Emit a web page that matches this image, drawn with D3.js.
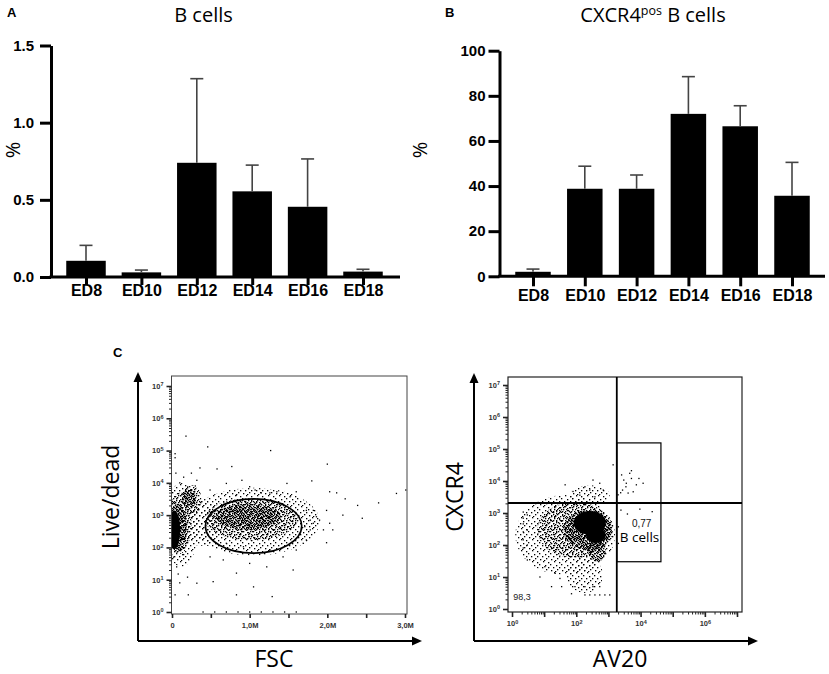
<!DOCTYPE html>
<html>
<head>
<meta charset="utf-8">
<script src="https://cdn.jsdelivr.net/npm/d3@7"></script>
<style>
  body { margin: 0; background: #fff; }
</style>
</head>
<body>
<svg width="829" height="674"></svg>
<script>
// ---- bar chart data ----
const categories = ["ED8", "ED10", "ED12", "ED14", "ED16", "ED18"];
const bCellMean = [0.105, 0.03, 0.74, 0.555, 0.455, 0.035];
const bCellUpper = [0.205, 0.045, 1.285, 0.725, 0.765, 0.05]; // top of SD whisker
const cxcr4Mean = [2, 38.8, 38.8, 72, 66.5, 35.7];
const cxcr4Upper = [3.2, 48.8, 44.9, 88.5, 75.6, 50.5];
const bCellTicks = [0, 0.5, 1.0, 1.5];
const cxcr4Ticks = [0, 20, 40, 60, 80, 100];

// ---- flow plot data ----
const decades = [1, 10, 100, 1e3, 1e4, 1e5, 1e6, 1e7];
const fscTicks = [0, 0.5, 1, 1.5, 2, 2.5, 3];
const fscLabels = { 0: "0", 1: "1,0M", 2: "2,0M", 3: "3,0M" };
const av20Labels = [1, 100, 1e4, 1e6];

// dense regions: [FSC (M), live/dead, FSC spread (M), spread (decades), density]
const liveDeadClouds = [
  [1.05, 630, 0.85, 1.05, 1],
  [0.38, 560, 0.25, 0.7, 1],
  [0.12, 500, 0.22, 1.3, 1],
  [1.02, 750, 0.6, 0.65, 2],
  [0.1, 560, 0.15, 0.95, 2],
  [0.25, 3000, 0.13, 0.45, 2],
  [0.98, 900, 0.42, 0.4, 3],
  [0.22, 3300, 0.09, 0.3, 3],
  [0.07, 400, 0.12, 0.75, 3],
  [0.03, 350, 0.075, 0.6, 4]
];
// single events: [FSC (M), live/dead]
const liveDeadPoints = [
  [0.18, 2.8e5], [0.46, 1.3e5], [1.27, 1e5], [2.0, 3.8e4], [0.04, 8e4], [0.04, 6e4],
  [0.77, 3.2e4], [0.58, 2.7e4], [0.36, 2.9e4], [0.25, 2e4], [0.9, 1.2e4], [1.48, 9.6e3],
  [1.8, 1.15e4], [1.07, 6e3], [1.15, 4.9e3], [1.35, 5.3e3], [2.03, 5.3e3], [2.12, 4.9e3],
  [2.23, 3.2e3], [2.39, 2e3], [2.66, 2.4e3], [2.89, 4.7e3], [3.01, 6e3], [2.45, 800],
  [2.2, 1e3], [1.99, 1.4e3], [2.03, 560], [1.95, 350], [1.99, 140], [1.86, 890],
  [1.82, 560], [1.9, 700], [1.78, 350], [1.73, 170], [2.07, 350], [0.66, 41],
  [0.83, 16], [1.05, 6], [0.83, 3.4], [1.29, 3], [0.53, 8.7], [0.32, 7.8],
  [0.21, 3.4], [1.56, 20], [1.22, 25], [1.43, 51], [1.6, 83], [1.0, 32],
  [0.49, 51], [0.06, 25], [0.1, 8], [0.04, 3.4], [0.92, 105], [1.26, 83],
  [0.7, 134], [1.69, 134], [0.7, 9.6e3], [1.0, 7.6e3], [1.6, 5.3e3], [0.49, 6e3],
  [0.32, 1.2e4], [1.26, 4.9e3], [1.52, 3.7e3], [0.83, 4.2e3], [1.73, 1.4e3], [1.78, 700],
  [1.71, 440], [1.82, 1.4e3], [0.02, 50], [0.08, 15], [0.15, 60], [0.2, 12],
  [0.03, 180], [0.15, 1.5e4], [0.3, 8e3], [0.05, 2e4], [0.1, 1e4], [0.4, 1],
  [0.55, 1], [0.7, 1], [0.85, 1], [1.0, 1], [1.15, 1], [1.3, 1], [1.45, 1], [1.6, 1]
];
const liveGate = { fsc: 1.05, ld: 460, fscR: 0.62, decR: 0.84 };

// dense regions: [AV20, CXCR4, AV20 spread (dec), CXCR4 spread (dec), density]
const cxcr4Clouds = [
  [45, 204, 1.55, 1.25, 1],
  [263, 3630, 0.62, 0.31, 1],
  [186, 11.5, 0.56, 0.56, 1],
  [91, 295, 1.18, 0.87, 2],
  [229, 295, 0.75, 0.62, 3],
  [437, 69, 0.28, 0.37, 3],
  [263, 490, 0.5, 0.37, 4],
  [407, 204, 0.31, 0.25, 4]
];
const cxcr4Points = [
  [1400, 3.2e4],
  [2570, 1.55e4], [3000, 1.07e4], [3600, 8500], [2750, 5200], [4600, 1.74e4], [5200, 1.2e4],
  [3500, 6600], [7400, 7600], [5900, 4600], [4100, 4200], [2400, 4300], [2000, 3700],
  [1.2e4, 8500], [8900, 1.2e4], [5200, 2.1e4],
  [2450, 1230], [3900, 930], [9500, 1320], [2.3e4, 1100], [2040, 370], [2040, 112],
  [2.24, 1070], [2.24, 690], [2.24, 457], [2.24, 257], [2.24, 145], [2.24, 81],
  [3.0, 870], [3.0, 295], [3.0, 100], [3.0, 34],
  [186, 2.75], [263, 2.75], [380, 2.75], [537, 2.75], [776, 2.75], [1100, 2.75],
  [17, 5], [35, 5], [91, 5], [186, 5], [331, 5], [537, 5],
  [7.4, 10], [10.5, 21], [22, 13], [71, 3], [31, 9],
  [45, 7600], [79, 4700], [129, 3600], [331, 1.07e4], [537, 8500], [692, 5200],
  [263, 5200], [186, 6600], [380, 3200]
];
const quadX = 1820, quadY = 2050;
const bGate = { x0: 1820, x1: 4.3e4, y0: 30, y1: 1.55e5 };

const svg = d3.select("svg");
const boldFont = "'Liberation Sans', Arial, sans-serif";
const textFont = "'Open Sans', sans-serif";

svg.append("rect").attr("width", 829).attr("height", 674).attr("fill", "#fff");

// dot textures for dense flow regions (irregular tiles, co-prime sizes)
const defs = svg.append("defs");
const tiles = {
  1: { size: 11, dots: [[0, 3], [1, 9], [3, 6], [4, 0], [6, 4], [7, 8], [9, 1], [9, 6], [5, 10]] },
  2: { size: 9, dots: [[0, 0], [2, 3], [4, 1], [6, 2], [8, 5], [1, 6], [3, 8], [5, 5], [7, 7], [0, 4], [7, 0], [2, 7], [5, 3], [4, 7]] },
  3: { size: 7, dots: [[0, 0], [2, 0], [4, 1], [6, 0], [1, 2], [3, 3], [5, 2], [0, 4], [2, 5], [4, 4], [6, 3], [1, 6], [3, 6], [5, 5]] }
};
Object.entries(tiles).forEach(([k, t]) => {
  const p = defs.append("pattern").attr("id", "dots" + k)
    .attr("patternUnits", "userSpaceOnUse").attr("width", t.size).attr("height", t.size);
  t.dots.forEach(d => p.append("rect").attr("x", d[0]).attr("y", d[1])
    .attr("width", 1.3).attr("height", 1.3).attr("fill", "#000"));
});

// ================= bar panels =================
function barPanel(o) {
  const x = d3.scalePoint().domain(categories).range(o.xRange).padding(0.5);
  const y = d3.scaleLinear().domain(o.yDomain).range([o.base, o.top]);
  const g = svg.append("g");

  g.selectAll(".bar").data(o.mean).join("rect")
    .attr("x", (d, i) => x(categories[i]) - o.barW / 2)
    .attr("y", d => y(d))
    .attr("width", o.barW)
    .attr("height", d => y(0) - y(d))
    .attr("fill", "#000");

  const eb = g.selectAll(".err").data(o.upper).join("g");
  eb.append("line")
    .attr("x1", (d, i) => x(categories[i])).attr("x2", (d, i) => x(categories[i]))
    .attr("y1", (d, i) => y(o.mean[i])).attr("y2", d => y(d))
    .attr("stroke", "#444").attr("stroke-width", 1.6);
  eb.append("line")
    .attr("x1", (d, i) => x(categories[i]) - 6.5).attr("x2", (d, i) => x(categories[i]) + 6.5)
    .attr("y1", d => y(d)).attr("y2", d => y(d))
    .attr("stroke", "#444").attr("stroke-width", 1.6);

  const ya = g.append("g").attr("transform", `translate(${o.axisX},0)`)
    .call(d3.axisLeft(y).tickValues(o.ticks).tickSize(11).tickSizeOuter(0).tickPadding(o.yPad).tickFormat(o.fmt));
  ya.select(".domain").attr("stroke-width", 3);
  ya.selectAll(".tick line").attr("stroke-width", 3);
  ya.selectAll(".tick text").attr("font-family", boldFont).attr("font-weight", "bold")
    .attr("font-size", 15).attr("fill", "#000");

  g.append("line").attr("x1", o.axisX - 1.5).attr("x2", o.xEnd)
    .attr("y1", y(0)).attr("y2", y(0)).attr("stroke", "#000").attr("stroke-width", 3);
  const xa = g.append("g").attr("transform", `translate(0,${y(0)})`)
    .call(d3.axisBottom(x).tickSize(o.xTick).tickSizeOuter(0).tickPadding(o.xPad));
  xa.select(".domain").remove();
  xa.selectAll(".tick line").attr("stroke-width", 3);
  xa.selectAll(".tick text").attr("font-family", boldFont).attr("font-weight", "bold")
    .attr("font-size", 16).attr("fill", "#000");

  g.append("text").attr("transform", `translate(${o.pctX},150) rotate(-90)`)
    .attr("text-anchor", "middle").attr("font-family", textFont).attr("font-size", 20).text("%");
}

barPanel({
  xRange: [58.3, 390.7], xEnd: 400, axisX: 51, base: 277, top: 45.5,
  yDomain: [0, 1.5], ticks: bCellTicks, fmt: d3.format(".1f"), yPad: 6,
  mean: bCellMean, upper: bCellUpper, barW: 39.5, xTick: 8, xPad: 0, pctX: 20
});
barPanel({
  xRange: [507.1, 817.9], xEnd: 825, axisX: 499.5, base: 276.3, top: 50.7,
  yDomain: [0, 100], ticks: cxcr4Ticks, fmt: d3.format("d"), yPad: 3,
  mean: cxcr4Mean, upper: cxcr4Upper, barW: 35.5, xTick: 10, xPad: 3, pctX: 427
});

// titles and panel letters
svg.append("text").attr("x", 203.5).attr("y", 22).attr("text-anchor", "middle")
  .attr("font-family", textFont).attr("font-size", 20).text("B cells");
const t2 = svg.append("text").attr("x", 653).attr("y", 22).attr("text-anchor", "middle")
  .attr("font-family", textFont).attr("font-size", 20);
t2.append("tspan").text("CXCR4");
t2.append("tspan").attr("font-size", 12.5).attr("dy", -7).text("pos");
t2.append("tspan").attr("dy", 7).text(" B cells");

[["A", 7, 17], ["B", 445, 17], ["C", 113, 357]].forEach(l =>
  svg.append("text").attr("x", l[1]).attr("y", l[2]).attr("font-family", boldFont)
    .attr("font-weight", "bold").attr("font-size", 13).text(l[0]));

// ================= flow plots =================
function powerLabel(sel) {
  sel.selectAll(".tick text").each(function (d) {
    const t = d3.select(this);
    t.text("");
    t.append("tspan").text("10");
    t.append("tspan").attr("dy", "-0.45em").attr("font-size", 5.5).text(Math.round(Math.log10(d)));
  });
}
function styleFlowAxis(a) {
  a.select(".domain").remove();
  a.selectAll(".tick line").attr("stroke", "#222").attr("stroke-width", 1);
  a.selectAll(".tick text").attr("font-family", boldFont).attr("font-size", 7.5)
    .attr("font-weight", "bold").attr("fill", "#333");
}
function logYAxis(g, y, xPos) {
  const minor = g.append("g").attr("transform", `translate(${xPos},0)`)
    .call(d3.axisLeft(y).tickValues(y.ticks().filter(v => !decades.includes(v))).tickSize(2.5).tickFormat(""));
  styleFlowAxis(minor);
  const major = g.append("g").attr("transform", `translate(${xPos},0)`)
    .call(d3.axisLeft(y).tickValues(decades).tickSize(5).tickPadding(3));
  styleFlowAxis(major);
  major.selectAll(".tick line").attr("stroke-width", 1.6);
  powerLabel(major);
}
function arrows(x0, y0, x1, y1) {
  const g = svg.append("g");
  g.append("path").attr("d", `M${x0},${y0}V${y1 + 8}M${x0},${y0}H${x1 - 8}`)
    .attr("stroke", "#000").attr("stroke-width", 2).attr("fill", "none");
  g.append("path").attr("d", `M${x0},${y1}l-4.5,10h9z`).attr("fill", "#000");
  g.append("path").attr("d", `M${x1},${y0}l-10,-4.5v9z`).attr("fill", "#000");
}
function drawClouds(g, clouds, x, y, logX) {
  g.selectAll("ellipse.cloud").data(clouds.slice().sort((a, b) => a[4] - b[4])).join("ellipse")
    .attr("class", "cloud")
    .attr("cx", d => x(d[0]))
    .attr("cy", d => y(d[1]))
    .attr("rx", d => (logX ? x(d[0] * Math.pow(10, d[2])) : x(d[0] + d[2])) - x(d[0]))
    .attr("ry", d => y(d[1]) - y(d[1] * Math.pow(10, d[3])))
    .attr("fill", d => d[4] === 4 ? "#000" : `url(#dots${d[4]})`);
}
function drawPoints(g, pts, x, y) {
  g.selectAll("rect.ev").data(pts).join("rect").attr("class", "ev")
    .attr("x", d => x(d[0]) - 0.65).attr("y", d => y(d[1]) - 0.65)
    .attr("width", 1.3).attr("height", 1.3).attr("fill", "#000");
}

// ---- left: FSC vs Live/dead ----
{
  const x = d3.scaleLinear().domain([0, 3]).range([172, 405]);
  const y = d3.scaleLog().domain([1, 1e7]).range([612, 386]);
  const g = svg.append("g");
  defs.append("clipPath").attr("id", "clipL").append("rect")
    .attr("x", 171.5).attr("y", 376).attr("width", 235.5).attr("height", 238);
  const data = g.append("g").attr("clip-path", "url(#clipL)");
  drawClouds(data, liveDeadClouds, x, y, false);
  drawPoints(data, liveDeadPoints, x, y);

  g.append("ellipse").attr("cx", x(liveGate.fsc)).attr("cy", y(liveGate.ld))
    .attr("rx", x(liveGate.fsc + liveGate.fscR) - x(liveGate.fsc))
    .attr("ry", y(liveGate.ld) - y(liveGate.ld * Math.pow(10, liveGate.decR)))
    .attr("fill", "none").attr("stroke", "#000").attr("stroke-width", 1.6);

  g.append("rect").attr("x", 171.5).attr("y", 376).attr("width", 235.5).attr("height", 238)
    .attr("fill", "none").attr("stroke", "#444").attr("stroke-width", 1);
  logYAxis(g, y, 171.5);
  const xa = g.append("g").attr("transform", "translate(0,614)")
    .call(d3.axisBottom(x).tickValues(fscTicks).tickSize(4).tickPadding(5)
      .tickFormat(d => fscLabels[d] || ""));
  styleFlowAxis(xa);
  xa.selectAll(".tick line").attr("stroke-width", 1.6);

  arrows(138, 641, 422, 372);
  svg.append("text").attr("transform", "translate(119,497) rotate(-90)").attr("text-anchor", "middle")
    .attr("font-family", textFont).attr("font-size", 23).text("Live/dead");
  svg.append("text").attr("x", 274).attr("y", 667).attr("text-anchor", "middle")
    .attr("font-family", textFont).attr("font-size", 23).text("FSC");
}

// ---- right: AV20 vs CXCR4 ----
{
  const x = d3.scaleLog().domain([1, 1e7]).range([512, 737]);
  const y = d3.scaleLog().domain([1, 1e7]).range([609, 385]);
  const g = svg.append("g");
  defs.append("clipPath").attr("id", "clipR").append("rect")
    .attr("x", 508).attr("y", 377).attr("width", x(quadX) - 508).attr("height", 235);
  const data = g.append("g").attr("clip-path", "url(#clipR)");
  drawClouds(data, cxcr4Clouds, x, y, true);
  drawPoints(g, cxcr4Points, x, y);

  g.append("rect").attr("x", 508).attr("y", 377).attr("width", 234).attr("height", 235)
    .attr("fill", "none").attr("stroke", "#222").attr("stroke-width", 1.2);
  g.append("line").attr("x1", x(quadX)).attr("x2", x(quadX)).attr("y1", 377).attr("y2", 612)
    .attr("stroke", "#000").attr("stroke-width", 1.8);
  g.append("line").attr("x1", 508).attr("x2", 742).attr("y1", y(quadY)).attr("y2", y(quadY))
    .attr("stroke", "#000").attr("stroke-width", 2);
  g.append("rect").attr("x", x(bGate.x0)).attr("y", y(bGate.y1))
    .attr("width", x(bGate.x1) - x(bGate.x0)).attr("height", y(bGate.y0) - y(bGate.y1))
    .attr("fill", "none").attr("stroke", "#000").attr("stroke-width", 1.2);

  logYAxis(g, y, 508);
  const minor = g.append("g").attr("transform", "translate(0,612)")
    .call(d3.axisBottom(x).tickValues(x.ticks().filter(v => !decades.includes(v))).tickSize(2.5).tickFormat(""));
  styleFlowAxis(minor);
  const major = g.append("g").attr("transform", "translate(0,612)")
    .call(d3.axisBottom(x).tickValues(decades).tickSize(5).tickPadding(4));
  styleFlowAxis(major);
  major.selectAll(".tick line").attr("stroke-width", 1.6);
  powerLabel(major);
  major.selectAll(".tick").filter(d => !av20Labels.includes(d)).select("text").remove();

  g.append("text").attr("x", x(1.1)).attr("y", y(1.9)).attr("font-family", boldFont)
    .attr("font-size", 9).attr("fill", "#222").text("98,3");
  g.append("text").attr("x", x(5400)).attr("y", y(365)).attr("font-family", boldFont)
    .attr("font-size", 10).attr("fill", "#111").text("0,77");
  g.append("text").attr("x", x(2250)).attr("y", y(124)).attr("font-family", textFont)
    .attr("font-size", 13.5).text("B cells");

  arrows(474, 641, 758, 373);
  svg.append("text").attr("transform", "translate(463,497) rotate(-90)").attr("text-anchor", "middle")
    .attr("font-family", textFont).attr("font-size", 23).text("CXCR4");
  svg.append("text").attr("x", 620).attr("y", 667).attr("text-anchor", "middle")
    .attr("font-family", textFont).attr("font-size", 23).text("AV20");
}
</script>
</body>
</html>
